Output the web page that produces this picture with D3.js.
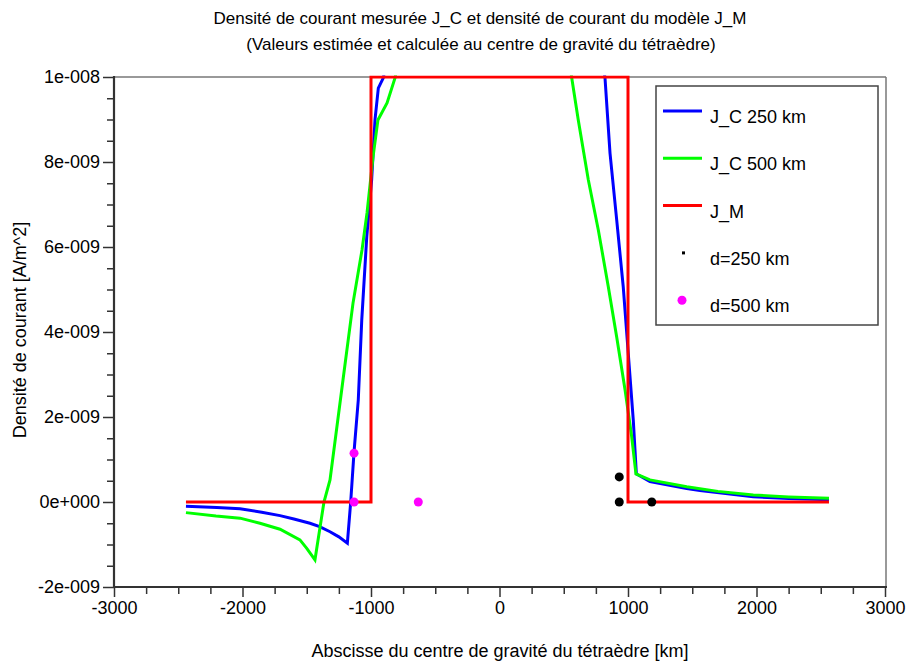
<!DOCTYPE html>
<html>
<head>
<meta charset="utf-8">
<script src="https://cdn.jsdelivr.net/npm/d3@7"></script>
<style>
  html, body { margin: 0; padding: 0; background: #fff; }
  svg { display: block; font-family: "Liberation Sans", Arial, sans-serif; }
</style>
</head>
<body>
<svg id="chart" width="907" height="663"></svg>
<script>
// ---------------- data ----------------
const titleLines = [
  "Densité de courant mesurée J_C et densité de courant du modèle J_M",
  "(Valeurs estimée et calculée au centre de gravité du tétraèdre)"
];
const xAxisLabel = "Abscisse du centre de gravité du tétraèdre [km]";
const yAxisLabel = "Densité de courant [A/m^2]";

const xMajorTicks = [-3000, -2000, -1000, 0, 1000, 2000, 3000];
const xMinorTicks = [-2750,-2500,-2250,-1750,-1500,-1250,-750,-500,-250,250,500,750,1250,1500,1750,2250,2500,2750];
const yMajorTicks = [-2e-9, 0, 2e-9, 4e-9, 6e-9, 8e-9, 1e-8];
const yTickLabels = ["-2e-009", "0e+000", "2e-009", "4e-009", "6e-009", "8e-009", "1e-008"];
const yMinorTicks = [-1.5e-9,-1e-9,-0.5e-9,0.5e-9,1e-9,1.5e-9,2.5e-9,3e-9,3.5e-9,4.5e-9,5e-9,5.5e-9,6.5e-9,7e-9,7.5e-9,8.5e-9,9e-9,9.5e-9];

// J_C 250 km
const jc250X = [-2440,-2200,-2019,-1850,-1708,-1600,-1475,-1400,-1319,-1250,-1184,-1158,-1132,-1099,-1072,-1033,-995,-969,-943,-904,-880,
                800,821,860,912,963,1002,1041,1065,1171,1457,1560,1975,2250,2564];
const jc250Y = [-0.10e-9,-0.13e-9,-0.16e-9,-0.24e-9,-0.32e-9,-0.40e-9,-0.50e-9,-0.58e-9,-0.70e-9,-0.82e-9,-0.97e-9,0,1.18e-9,2.4e-9,4.28e-9,6.24e-9,7.58e-9,8.99e-9,9.74e-9,9.98e-9,10.4e-9,
                10.4e-9,9.98e-9,8.21e-9,6.64e-9,5.06e-9,3.5e-9,1.93e-9,0.66e-9,0.48e-9,0.32e-9,0.27e-9,0.125e-9,0.08e-9,0.05e-9];

// J_C 500 km
const jc500X = [-2440,-2206,-2019,-1864,-1708,-1553,-1500,-1436,-1366,-1319,-1218,-1140,-1070,-1031,-984,-946,-875,-813,-780,
                540,562,613,691,769,847,912,977,1029,1062,1171,1457,1700,1975,2250,2564];
const jc500Y = [-0.25e-9,-0.33e-9,-0.38e-9,-0.50e-9,-0.64e-9,-0.89e-9,-1.09e-9,-1.36e-9,0,0.52e-9,2.87e-9,4.68e-9,5.93e-9,6.8e-9,8.12e-9,8.99e-9,9.39e-9,9.98e-9,10.5e-9,
                10.5e-9,9.98e-9,8.99e-9,7.58e-9,6.4e-9,5.06e-9,3.88e-9,2.64e-9,1.53e-9,0.66e-9,0.52e-9,0.36e-9,0.25e-9,0.165e-9,0.12e-9,0.087e-9];

// J_M model
const jmX = [-2440, -1000, -1000, 1000, 1000, 2564];
const jmY = [0, 0, 1e-8, 1e-8, 0, 0];

// estimated points
const d250X = [932, 932, 1185];
const d250Y = [0.59e-9, 0, 0];
const d500X = [-1132, -1132, -632];
const d500Y = [1.15e-9, 0, 0];

const legendLabels = ["J_C 250 km", "J_C 500 km", "J_M", "d=250 km", "d=500 km"];

// ---------------- layout ----------------
const svg = d3.select("#chart");
const L = 114, R = 885, T = 77, B = 587;
const x = d3.scaleLinear().domain([-3000, 3000]).range([L, R]);
const y = d3.scaleLinear().domain([-2e-9, 1e-8]).range([B, T]);

svg.append("rect").attr("width", 907).attr("height", 663).attr("fill", "#fff");

svg.append("defs").append("clipPath").attr("id", "plotClip")
  .append("rect").attr("x", L).attr("y", T - 1.5).attr("width", R - L).attr("height", B - T + 1.5);

// frame: top & right thin gray
svg.append("line").attr("x1", L).attr("x2", R + 1).attr("y1", T).attr("y2", T).attr("stroke", "#777").attr("stroke-width", 1.5);
svg.append("line").attr("x1", R + 1).attr("x2", R + 1).attr("y1", T).attr("y2", B).attr("stroke", "#777").attr("stroke-width", 1.5);

// axes
const fontSize = 18;
const xAxisMajor = d3.axisBottom(x).tickValues(xMajorTicks).tickSize(10).tickSizeOuter(0).tickPadding(4).tickFormat(d => String(d));
const xAxisMinor = d3.axisBottom(x).tickValues(xMinorTicks).tickSize(7).tickSizeOuter(0).tickFormat("");
const yAxisMajor = d3.axisLeft(y).tickValues(yMajorTicks).tickSize(11).tickSizeOuter(0).tickPadding(3)
  .tickFormat((d, i) => yTickLabels[i]);
const yAxisMinor = d3.axisLeft(y).tickValues(yMinorTicks).tickSize(7).tickSizeOuter(0).tickFormat("");

function styleAxis(g) {
  g.select(".domain").remove();
  g.selectAll(".tick line").attr("stroke", "#333").attr("stroke-width", 1.5);
  g.selectAll(".tick text").attr("fill", "#000").style("font-size", fontSize + "px")
    .style("font-family", '"Liberation Sans", Arial, sans-serif');
}
svg.append("g").attr("transform", `translate(0,${B})`).call(xAxisMinor).call(styleAxis);
svg.append("g").attr("transform", `translate(0,${B})`).call(xAxisMajor).call(styleAxis);
svg.append("g").attr("transform", `translate(${L},0)`).call(yAxisMinor).call(styleAxis);
svg.append("g").attr("transform", `translate(${L},0)`).call(yAxisMajor).call(styleAxis);

// left & bottom axis lines (thick dark)
svg.append("line").attr("x1", L).attr("x2", L).attr("y1", T - 1).attr("y2", B + 1).attr("stroke", "#333").attr("stroke-width", 2.2);
svg.append("line").attr("x1", L - 1).attr("x2", R + 2).attr("y1", B).attr("y2", B).attr("stroke", "#333").attr("stroke-width", 2.2);

// series
const plot = svg.append("g").attr("clip-path", "url(#plotClip)");
const line = d3.line().x(d => x(d[0])).y(d => y(d[1]));
const series = [
  { xs: jc250X, ys: jc250Y, color: "#0000ff" },
  { xs: jc500X, ys: jc500Y, color: "#00ff00" },
  { xs: jmX, ys: jmY, color: "#ff0000" }
];
series.forEach(s => {
  plot.append("path")
    .datum(s.xs.map((v, i) => [v, s.ys[i]]))
    .attr("d", line)
    .attr("fill", "none")
    .attr("stroke", s.color)
    .attr("stroke-width", 3)
    .attr("stroke-linejoin", "miter");
});

plot.selectAll(".d250").data(d250X.map((v, i) => [v, d250Y[i]])).join("circle")
  .attr("cx", d => x(d[0])).attr("cy", d => y(d[1])).attr("r", 4.5).attr("fill", "#000");
plot.selectAll(".d500").data(d500X.map((v, i) => [v, d500Y[i]])).join("circle")
  .attr("cx", d => x(d[0])).attr("cy", d => y(d[1])).attr("r", 4.5).attr("fill", "#ff00ff");

// legend
const lg = svg.append("g");
lg.append("rect").attr("x", 656).attr("y", 86).attr("width", 222).attr("height", 239)
  .attr("fill", "#fff").attr("stroke", "#444").attr("stroke-width", 1.5);
const rowY = i => 111 + i * 47.3;
const legendColors = ["#0000ff", "#00ff00", "#ff0000"];
legendLabels.forEach((lab, i) => {
  const yy = rowY(i);
  if (i < 3) {
    lg.append("line").attr("x1", 663).attr("x2", 702).attr("y1", yy).attr("y2", yy)
      .attr("stroke", legendColors[i]).attr("stroke-width", 3);
  } else if (i === 3) {
    lg.append("rect").attr("x", 682).attr("y", yy - 1.5).attr("width", 3).attr("height", 3).attr("fill", "#000");
  } else {
    lg.append("circle").attr("cx", 682).attr("cy", yy).attr("r", 4.5).attr("fill", "#ff00ff");
  }
  lg.append("text").attr("x", 710).attr("y", yy + 12).text(lab)
    .style("font-size", fontSize + "px").attr("fill", "#000");
});

// titles
svg.append("text").attr("x", 480).attr("y", 24).attr("text-anchor", "middle")
  .style("font-size", "17px").text(titleLines[0]);
svg.append("text").attr("x", 481).attr("y", 50).attr("text-anchor", "middle")
  .style("font-size", "17px").text(titleLines[1]);

svg.append("text").attr("x", 500).attr("y", 657).attr("text-anchor", "middle")
  .style("font-size", fontSize + "px").text(xAxisLabel);
svg.append("text").attr("transform", "translate(26,330) rotate(-90)").attr("text-anchor", "middle")
  .style("font-size", fontSize + "px").text(yAxisLabel);
</script>
</body>
</html>
